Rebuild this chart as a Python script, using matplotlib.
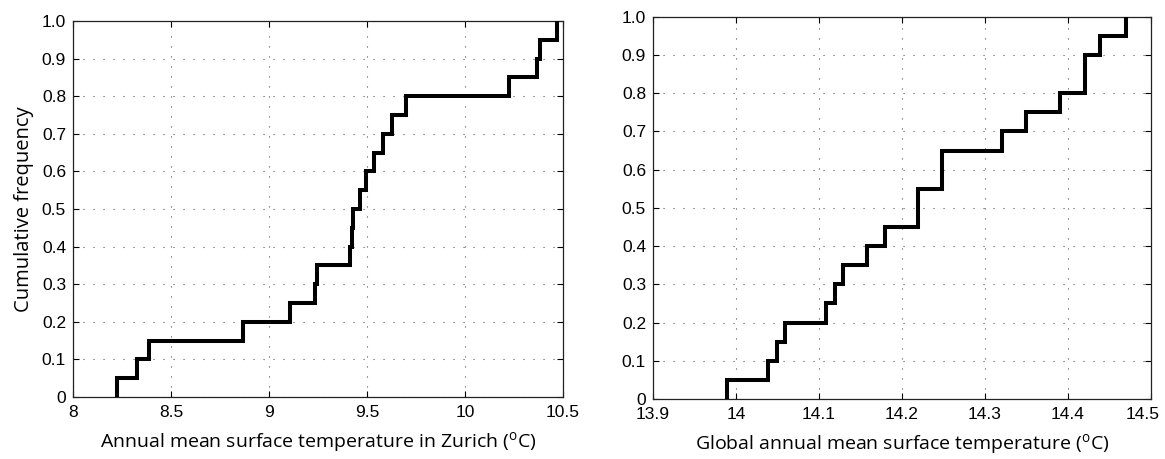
import matplotlib.pyplot as plt
import matplotlib.transforms as mtransforms
import numpy as np

# sorted annual means
zurich_temps = [8.223, 8.328, 8.390, 8.866, 9.107, 9.235, 9.243, 9.413, 9.422, 9.430,
                9.464, 9.495, 9.536, 9.583, 9.626, 9.699, 10.224, 10.366, 10.380, 10.468]
global_temps = [13.989, 14.039, 14.049, 14.059, 14.109, 14.119, 14.129, 14.158, 14.180, 14.219,
                14.219, 14.248, 14.248, 14.320, 14.349, 14.390, 14.420, 14.420, 14.439, 14.470]

zurich_xticks = [8, 8.5, 9, 9.5, 10, 10.5]
zurich_xlabels = ["8", "8.5", "9", "9.5", "10", "10.5"]
global_xticks = [13.9, 14.0, 14.1, 14.2, 14.3, 14.4, 14.5]
global_xlabels = ["13.9", "14", "14.1", "14.2", "14.3", "14.4", "14.5"]
yticks = [0, 0.1, 0.2, 0.3, 0.4, 0.5, 0.6, 0.7, 0.8, 0.9, 1.0]
ylabels = ["0", "0.1", "0.2", "0.3", "0.4", "0.5", "0.6", "0.7", "0.8", "0.9", "1.0"]

LABEL_FONT = "Open Sans"
TICK_FONT = "Liberation Sans"
plt.rcParams["mathtext.fontset"] = "custom"
plt.rcParams["mathtext.rm"] = LABEL_FONT

DEG = r"$^{\mathrm{o}}$"


def draw_ecdf(ax, temps, xticks, xlabels, xlabel, ylabel=None):
    vals = np.sort(np.asarray(temps))
    cum = np.arange(1, len(vals) + 1) / len(vals)
    xs = np.concatenate([[vals[0]], vals])
    ys = np.concatenate([[0.0], cum])
    ax.step(xs, ys, where="post", color="black", lw=2.9, solid_joinstyle="miter", zorder=3)

    ax.set_xlim(xticks[0], xticks[-1])
    ax.set_ylim(0, 1)
    ax.set_xticks(xticks)
    ax.set_xticklabels(xlabels, fontfamily=TICK_FONT, fontsize=12.5)
    ax.set_yticks(yticks)
    ax.set_yticklabels(ylabels, fontfamily=TICK_FONT, fontsize=12.5)
    ax.tick_params(direction="in", length=4, width=0.8, top=True, right=True)
    ax.tick_params(axis="x", pad=6)
    ax.tick_params(axis="y", pad=5)
    ax.grid(True, color="#555555", linestyle=(0, (1, 8)), linewidth=0.8)
    for spine in ax.spines.values():
        spine.set_linewidth(0.9)
        spine.set_color("#222222")
    ax.set_xlabel(xlabel, fontfamily=LABEL_FONT, fontsize=14, labelpad=7)
    if ylabel:
        ax.set_ylabel(ylabel, fontfamily=LABEL_FONT, fontsize=14.5, labelpad=6)


fig = plt.figure(figsize=(11.65, 4.59), dpi=100)
ax_zurich = fig.add_axes([0.0627, 0.1351, 0.4206, 0.8191])
ax_global = fig.add_axes([0.5605, 0.1307, 0.4275, 0.8329])

draw_ecdf(ax_zurich, zurich_temps, zurich_xticks, zurich_xlabels,
          f"Annual mean surface temperature in Zurich ({DEG}C)", "Cumulative frequency")
draw_ecdf(ax_global, global_temps, global_xticks, global_xlabels,
          f"Global annual mean surface temperature ({DEG}C)")

# the last tick label sits flush with the figure edge, nudge it inwards
last = ax_global.get_xticklabels()[-1]
last.set_transform(last.get_transform()
                   + mtransforms.ScaledTranslation(-6 / 72, 0, fig.dpi_scale_trans))

fig.savefig("out.png", dpi=100)
